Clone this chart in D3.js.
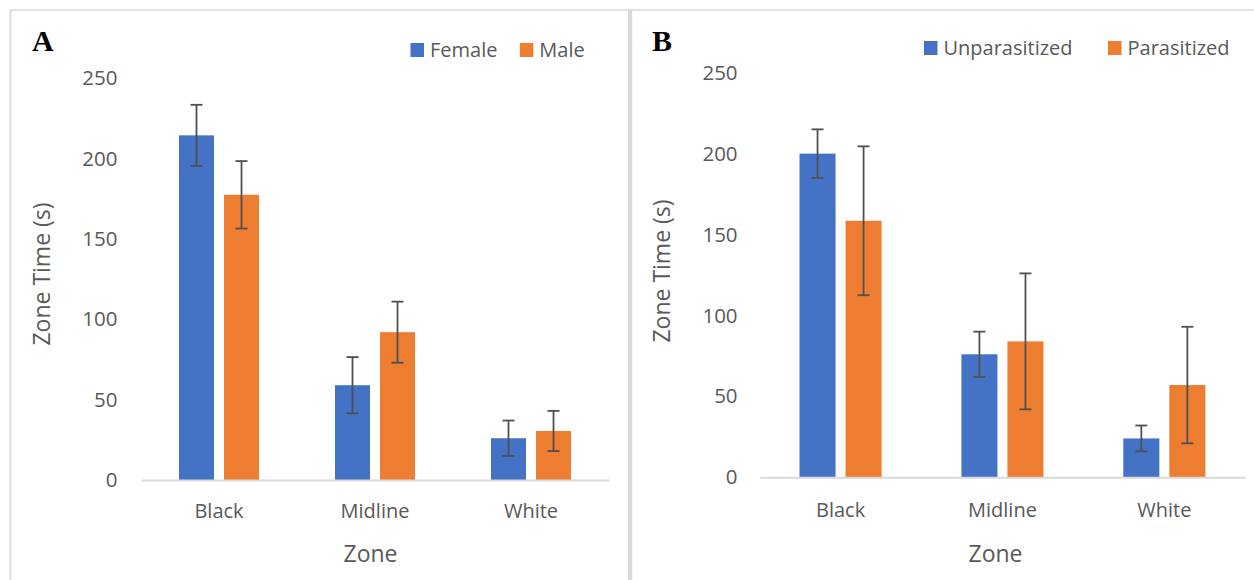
<!DOCTYPE html>
<html>
<head>
<meta charset="utf-8">
<script src="https://cdn.jsdelivr.net/npm/d3@7"></script>
<style>
  html, body { margin: 0; padding: 0; background: #fff; }
  svg { display: block; }
  text { font-family: "Open Sans", sans-serif; fill: #595959; }
  text.letter { font-family: "Liberation Serif", "Times New Roman", serif; font-weight: bold; fill: #000; }
</style>
</head>
<body>
<svg id="chart" width="1254" height="580"></svg>
<script>
// Zone occupancy (seconds), mean ± error per zone
const zones = ["Black", "Midline", "White"];
const yTicks = [0, 50, 100, 150, 200, 250];

// Panel A: by sex
const sexSeries = ["Female", "Male"];
const femaleMeans = [214.5, 59, 26];
const femaleErr = [19, 17.5, 11];
const maleMeans = [177.5, 92, 30.5];
const maleErr = [21, 19, 12.5];

// Panel B: by infection status
const infectionSeries = ["Unparasitized", "Parasitized"];
const unparMeans = [200, 76, 24];
const unparErr = [15, 14, 8];
const parMeans = [158.5, 84, 57];
const parErr = [46, 42, 36];

const colors = ["#4472C4", "#ED7D31"];
const textColor = "#595959";
const borderColor = "#D9D9D9";

const svg = d3.select("#chart");

// Panel frames
svg.append("rect").attr("x", 0).attr("y", 0).attr("width", 1254).attr("height", 580).attr("fill", "#fff");
svg.append("line").attr("x1", 10).attr("x2", 1254).attr("y1", 10).attr("y2", 10)
  .attr("stroke", borderColor).attr("stroke-width", 1.6);
svg.append("line").attr("x1", 10.5).attr("x2", 10.5).attr("y1", 10).attr("y2", 580)
  .attr("stroke", borderColor).attr("stroke-width", 1.8);
svg.append("rect").attr("x", 628).attr("y", 10).attr("width", 4.2).attr("height", 570)
  .attr("fill", borderColor);

function drawPanel(cfg) {
  const g = svg.append("g");
  const rows = zones.map((z, i) => ({
    zone: z,
    values: cfg.series.map((s, j) => ({ series: s, idx: j, mean: cfg.means[j][i], err: cfg.errs[j][i] }))
  }));

  const x0 = d3.scaleBand().domain(zones).range([cfg.left, cfg.right])
    .paddingInner(cfg.groupPad).paddingOuter(cfg.groupPad / 2);
  const x1 = d3.scaleBand().domain(cfg.series).range([0, x0.bandwidth()])
    .paddingInner(cfg.barPad).paddingOuter(0);
  const y = d3.scaleLinear().domain([0, 250]).range([cfg.base, cfg.top]);

  // Y axis labels (no line, no tick marks)
  const yAxis = g.append("g").attr("transform", `translate(${cfg.left},0)`)
    .call(d3.axisLeft(y).tickValues(yTicks).tickSize(0).tickPadding(cfg.yPad));
  yAxis.select(".domain").remove();
  yAxis.selectAll("text").attr("font-size", 20.5).attr("font-family", "Open Sans").attr("fill", textColor);

  // Bars
  const grp = g.selectAll(".grp").data(rows).join("g")
    .attr("transform", d => `translate(${x0(d.zone)},0)`);
  grp.selectAll("rect").data(d => d.values).join("rect")
    .attr("x", d => x1(d.series))
    .attr("width", x1.bandwidth())
    .attr("y", d => y(d.mean))
    .attr("height", d => y(0) - y(d.mean))
    .attr("fill", d => colors[d.idx]);

  // Error bars
  const eb = grp.selectAll(".eb").data(d => d.values).join("g").attr("class", "eb")
    .attr("stroke", "#505050").attr("stroke-width", 1.8).attr("fill", "none");
  const cx = d => x1(d.series) + x1.bandwidth() / 2;
  eb.append("line").attr("x1", cx).attr("x2", cx)
    .attr("y1", d => y(d.mean + d.err)).attr("y2", d => y(d.mean - d.err));
  eb.append("line").attr("x1", d => cx(d) - 6).attr("x2", d => cx(d) + 6)
    .attr("y1", d => y(d.mean + d.err)).attr("y2", d => y(d.mean + d.err));
  eb.append("line").attr("x1", d => cx(d) - 6).attr("x2", d => cx(d) + 6)
    .attr("y1", d => y(d.mean - d.err)).attr("y2", d => y(d.mean - d.err));

  // X axis with baseline
  const xAxis = g.append("g").attr("transform", `translate(0,${cfg.base})`)
    .call(d3.axisBottom(x0).tickSize(0).tickSizeOuter(0));
  xAxis.select(".domain").attr("stroke", borderColor).attr("stroke-width", 2);
  xAxis.selectAll("text").attr("font-size", 20).attr("font-family", "Open Sans")
    .attr("fill", textColor).attr("y", cfg.catY).attr("dy", 0);

  // Axis titles
  g.append("text").attr("x", cfg.xTitleX).attr("y", 562).attr("text-anchor", "middle")
    .attr("font-size", 23).text("Zone");
  g.append("text").attr("transform", `translate(${cfg.yTitleX},${cfg.yTitleY}) rotate(-90)`)
    .attr("text-anchor", "middle").attr("font-size", 23).text("Zone Time (s)");

  // Panel letter
  g.append("text").attr("class", "letter").attr("x", cfg.letterX).attr("y", 51)
    .style("font-size", "30px").text(cfg.letter);

  // Legend
  const lg = g.selectAll(".lg").data(cfg.series).join("g")
    .attr("transform", (d, i) => `translate(${cfg.legendX[i]},${cfg.legendY})`);
  lg.append("rect").attr("x", 0).attr("y", -14).attr("width", 13.5).attr("height", 14)
    .attr("fill", (d, i) => colors[i]);
  lg.append("text").attr("x", 19.5).attr("y", 0).attr("font-size", 20).text(d => d);
}

drawPanel({
  letter: "A", letterX: 32,
  series: sexSeries, means: [femaleMeans, maleMeans], errs: [femaleErr, maleErr],
  left: 141, right: 609, top: 78.3, base: 480,
  groupPad: 0.487, barPad: 0.222, yPad: 23.5, catY: 38,
  xTitleX: 370.5, yTitleX: 50, yTitleY: 274,
  legendX: [410.5, 519.8], legendY: 57
});

drawPanel({
  letter: "B", letterX: 652,
  series: infectionSeries, means: [unparMeans, parMeans], errs: [unparErr, parErr],
  left: 759.6, right: 1245.3, top: 72.7, base: 477.3,
  groupPad: 0.493, barPad: 0.217, yPad: 22, catY: 40,
  xTitleX: 995.5, yTitleX: 50 + 620, yTitleY: 271,
  legendX: [924, 1108], legendY: 55
});
</script>
</body>
</html>
